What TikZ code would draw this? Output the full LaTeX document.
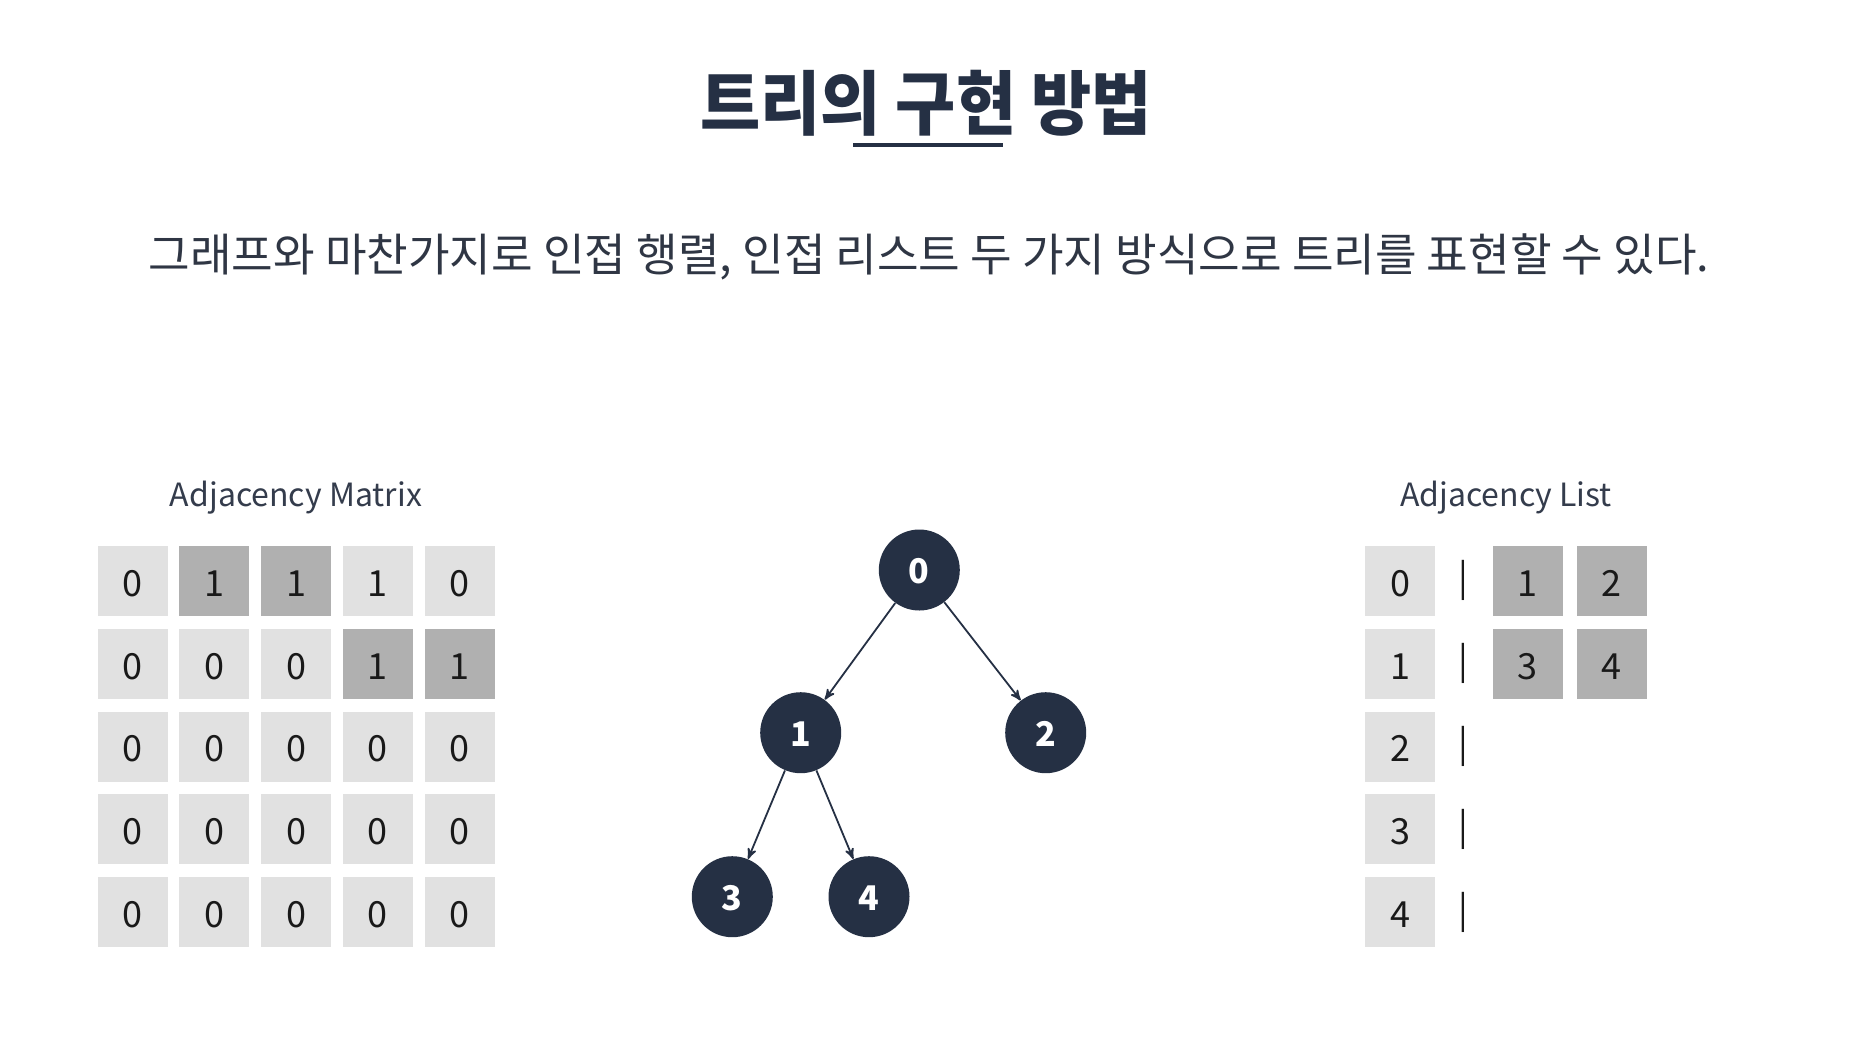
\documentclass[tikz,border=0pt]{standalone}
\usepackage{fontspec}
\setmainfont{Noto Sans CJK KR}
\newfontfamily\titlefont[FakeStretch=0.935]{Noto Sans CJK KR}
\usepackage{xcolor}
\usetikzlibrary{arrows}
\definecolor{navy}{RGB}{37,48,68}
\definecolor{slate}{RGB}{52,60,76}
\definecolor{celllight}{RGB}{225,225,225}
\definecolor{celldark}{RGB}{176,176,176}
\tikzset{
  cellbox/.style = {rectangle, inner sep=0pt, minimum size=35pt, text=black!90,
    text height=15.4pt, text depth=0pt, font=\fontsize{18}{20}\selectfont},
  cell_l/.style = {cellbox, fill=celllight},% case claire
  cell_d/.style = {cellbox, fill=celldark},% case foncee
  barmark/.style = {inner sep=0pt, text=black!90, font=\fontsize{18}{20}\selectfont},% separateur
  treenode/.style = {circle, fill=navy, text=white, inner sep=0pt, text height=13.4pt,
    text depth=0pt, minimum size=40.5pt, font=\fontsize{17}{20}\selectfont\bfseries},% noeud de l'arbre
  treeedge/.style = {->, draw=navy, line width=0.9pt},% arete
  caption/.style = {anchor=base, text=slate, font=\fontsize{16}{19}\selectfont}
}

\begin{document}
\begin{tikzpicture}[>=stealth', x=0.5pt, y=-0.5pt]
\fill[white] (0,0) rectangle (1874,1062);
\useasboundingbox (0,0) rectangle (1874,1062);
% titres
\node [text=navy, font=\titlefont\fontsize{35}{40}\selectfont\bfseries] (title) at (926,103) {트리의 구현 방법};
\draw [navy, line width=2pt] (853,145) -- (1003,145);
\node [text=slate!90!black, font=\fontsize{22.6}{26}\selectfont] (subtitle) at (929,257)
  {그래프와 마찬가지로 인접 행렬, 인접 리스트 두 가지 방식으로 트리를 표현할 수 있다.};
% matrice d'adjacence
\node [caption] (mcap) at (296,506.7) {Adjacency Matrix};
\foreach \row [count=\r from 0] in {{0/l,1/d,1/d,1/l,0/l},{0/l,0/l,0/l,1/d,1/d},
    {0/l,0/l,0/l,0/l,0/l},{0/l,0/l,0/l,0/l,0/l},{0/l,0/l,0/l,0/l,0/l}}
  \foreach \v/\s [count=\c from 0] in \row
    \node [cell_\s] (m\r\c) at (132.7+\c*81.75, 580.7+\r*82.9) {\v};
% liste d'adjacence
\node [caption] (lcap) at (1506,506.7) {Adjacency List};
\foreach \i in {0,...,4} {
  \node [cell_l] (l\i) at (1400, 580.7+\i*82.9) {\i};
  \node [barmark] (b\i) at (1463.3, 580.7+\i*82.9) {|};
}
\node [cell_d] (l01) at (1527.5,580.7) {1};
\node [cell_d] (l02) at (1611.7,580.7) {2};
\node [cell_d] (l11) at (1527.5,663.6) {3};
\node [cell_d] (l12) at (1611.7,663.6) {4};
% arbre
\node [treenode] (t0) at (919.3,570) {0};
\node [treenode] (t1) at (800.7,732.7) {1};
\node [treenode] (t2) at (1045.7,732.7) {2};
\node [treenode] (t3) at (732.3,896.7) {3};
\node [treenode] (t4) at (869,896.7) {4};
\draw [treeedge] (t0) -- (t1);
\draw [treeedge] (t0) -- (t2);
\draw [treeedge] (t1) -- (t3);
\draw [treeedge] (t1) -- (t4);
\end{tikzpicture}
\end{document}
